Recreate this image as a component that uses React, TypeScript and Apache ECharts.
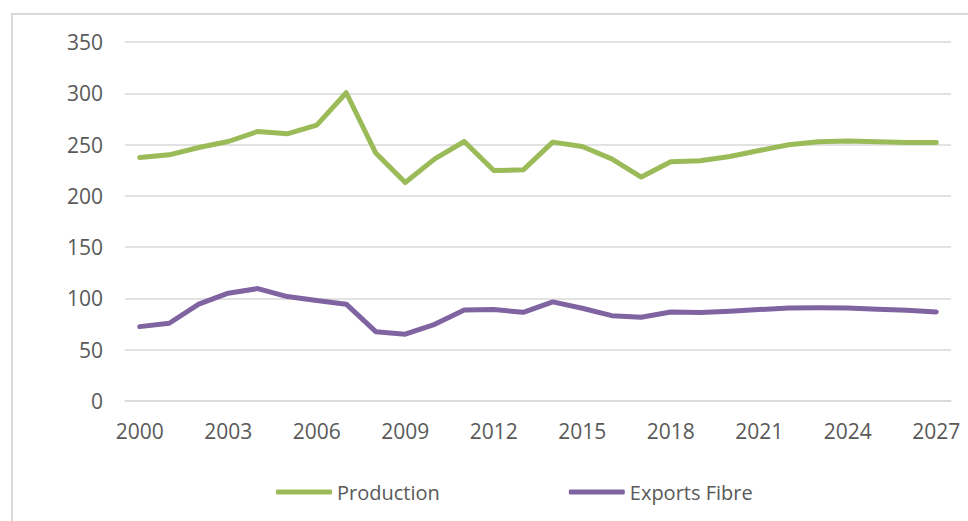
import React, { useEffect, useRef } from "react";
import * as echarts from "echarts";

const years: string[] = [
  "2000", "2001", "2002", "2003", "2004", "2005", "2006", "2007", "2008", "2009",
  "2010", "2011", "2012", "2013", "2014", "2015", "2016", "2017", "2018", "2019",
  "2020", "2021", "2022", "2023", "2024", "2025", "2026", "2027",
];

const production: number[] = [
  237.4, 240.0, 247.1, 253.0, 262.8, 260.5, 269.0, 300.5, 241.7, 213.0,
  236.1, 253.0, 224.7, 225.4, 252.4, 248.1, 236.1, 218.3, 233.2, 234.2,
  238.4, 244.2, 249.8, 252.7, 253.4, 252.7, 252.0, 252.0,
];

const exportsFibre: number[] = [
  72.5, 75.8, 94.4, 105.1, 109.6, 101.8, 97.9, 94.4, 67.6, 65.1,
  74.8, 88.8, 89.1, 86.5, 96.6, 90.4, 83.2, 81.7, 86.8, 86.2,
  87.5, 89.1, 90.7, 91.0, 90.7, 89.5, 88.5, 86.8,
];

const seriesNames: string[] = ["Production", "Exports Fibre"];
const yTicks = { min: 0, max: 350, interval: 50 };

const FONT = "'Open Sans', 'Noto Sans', sans-serif";
const TEXT = "#595959";
const GRID = "#D9D9D9";

export default function App() {
  const ref = useRef<HTMLDivElement>(null);

  useEffect(() => {
    if (!ref.current) return;
    const chart = echarts.init(ref.current, null, { renderer: "svg" });
    chart.setOption({
      animation: false,
      backgroundColor: "#ffffff",
      grid: { left: 125, right: 17, top: 42, bottom: 120, containLabel: false },
      graphic: [
        {
          type: "rect",
          shape: { x: 12, y: 14, width: 1000, height: 600 },
          style: { fill: "none", stroke: GRID, lineWidth: 2 },
          silent: true,
        },
      ],
      legend: {
        data: seriesNames,
        left: 271,
        top: 477,
        icon: "roundRect",
        itemWidth: 56,
        itemHeight: 5,
        itemGap: 129,
        textStyle: { color: TEXT, fontSize: 20, fontFamily: FONT },
      },
      xAxis: {
        type: "category",
        data: years,
        boundaryGap: true,
        axisLine: { show: true, lineStyle: { color: GRID, width: 1.5 } },
        axisTick: { show: false },
        axisLabel: {
          interval: 2,
          color: TEXT,
          fontSize: 21,
          fontFamily: FONT,
          margin: 19,
        },
        splitLine: { show: false },
      },
      yAxis: {
        type: "value",
        min: yTicks.min,
        max: yTicks.max,
        interval: yTicks.interval,
        axisLine: { show: false },
        axisTick: { show: false },
        axisLabel: { color: TEXT, fontSize: 21, fontFamily: FONT, margin: 22 },
        splitLine: { show: true, lineStyle: { color: GRID, width: 1.5 } },
      },
      series: [
        {
          name: seriesNames[0],
          type: "line",
          data: production,
          symbol: "none",
          color: "#9BBB59",
          lineStyle: { color: "#9BBB59", width: 5, cap: "round", join: "round" },
        },
        {
          name: seriesNames[1],
          type: "line",
          data: exportsFibre,
          symbol: "none",
          color: "#8064A2",
          lineStyle: { color: "#8064A2", width: 5, cap: "round", join: "round" },
        },
      ],
    });
    return () => chart.dispose();
  }, []);

  return (
    <div
      ref={ref}
      style={{ position: "fixed", left: 0, top: 0, width: 968, height: 521 }}
    />
  );
}
